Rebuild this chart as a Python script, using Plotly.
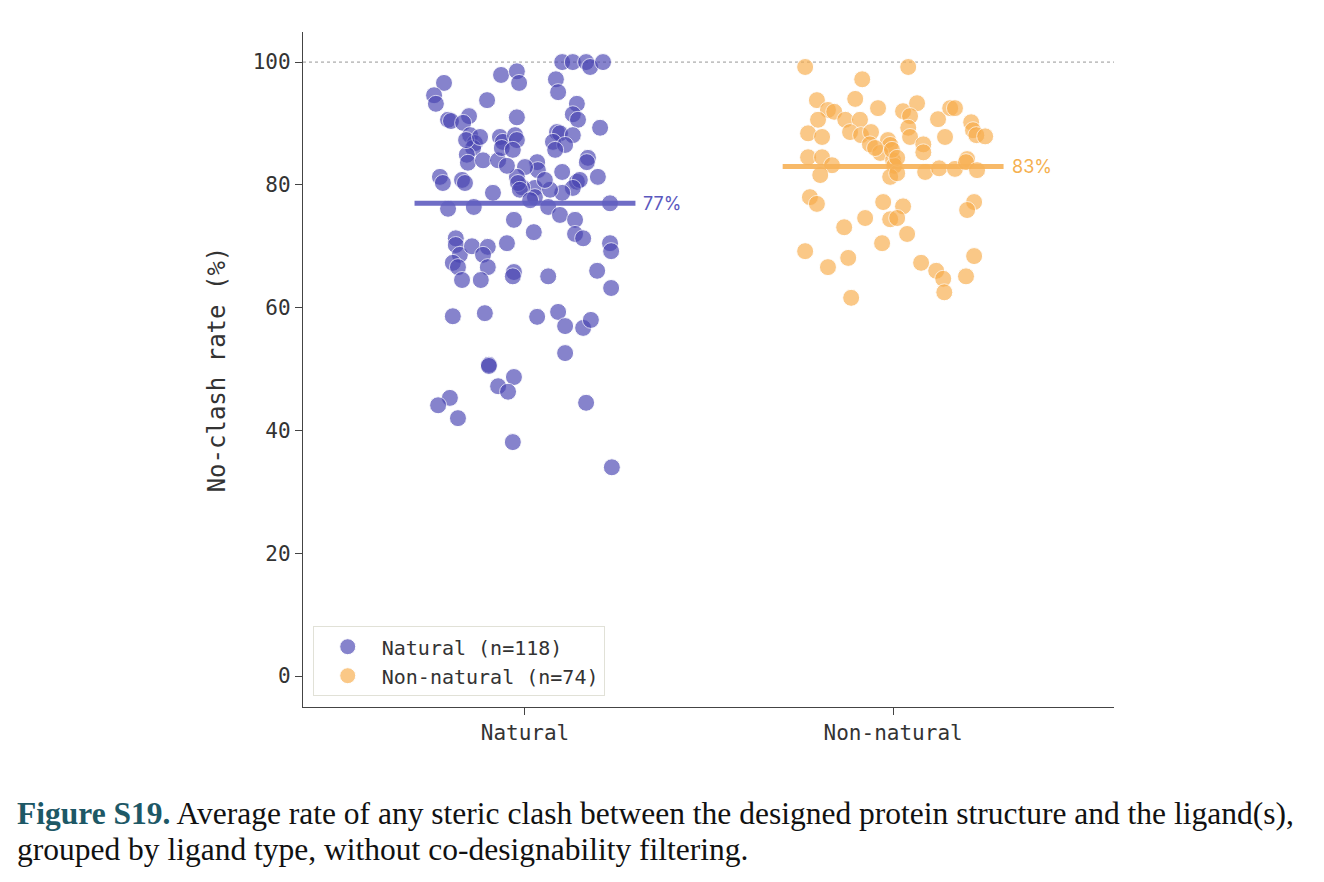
import plotly.graph_objects as go

categories = ["Natural", "Non-natural"]
legend_labels = ["Natural (n=118)", "Non-natural (n=74)"]
mean_values = [77, 83]

natural_jitter = [
    -0.220, -0.247, -0.242, -0.209, -0.201, -0.152, -0.168, -0.103, -0.065, -0.022,
    -0.016, -0.022, 0.101, 0.130, 0.166, 0.177, 0.212, 0.084, 0.090, 0.141,
    0.130, 0.144, 0.204, -0.149, -0.136, -0.141, -0.158, -0.155, -0.114, -0.073,
    -0.068, -0.060, -0.027, -0.022, -0.063, -0.033, 0.087, 0.095, 0.130, 0.076,
    0.109, 0.033, 0.035, 0.000, 0.171, 0.168, 0.101, 0.198, 0.141, 0.149,
    0.130, 0.101, 0.027, 0.027, 0.068, 0.063, 0.095, 0.136, 0.231, -0.008,
    -0.231, -0.223, -0.171, -0.163, -0.087, -0.022, -0.019, -0.014, -0.209, -0.139,
    -0.030, 0.024, 0.136, 0.158, 0.231, 0.234, -0.188, -0.188, -0.177, -0.196,
    -0.182, -0.144, -0.101, -0.114, -0.101, -0.171, -0.120, -0.049, -0.030, -0.033,
    0.063, 0.196, 0.234, -0.196, -0.109, 0.033, 0.090, 0.109, 0.158, 0.179,
    0.109, -0.098, -0.098, -0.030, -0.073, -0.046, -0.204, -0.236, -0.182, 0.166,
    -0.033, 0.236, -0.049, 0.054, -0.160, 0.014, -0.122, 0.082,
]
natural_values = [
    96.6, 94.6, 93.2, 90.6, 90.4, 91.2, 90.1, 93.8, 97.9, 98.5,
    96.6, 91.0, 100.0, 100.0, 100.0, 99.2, 100.0, 97.2, 95.1, 93.2,
    91.5, 90.6, 89.3, 88.1, 86.8, 86.0, 84.9, 83.6, 84.0, 84.0,
    87.8, 87.0, 88.1, 87.3, 86.0, 85.7, 88.6, 88.4, 88.1, 87.0,
    86.5, 83.7, 82.4, 82.9, 84.4, 83.7, 82.1, 81.3, 80.5, 80.8,
    79.5, 78.7, 79.5, 78.0, 79.2, 76.4, 75.1, 74.3, 77.0, 79.6,
    81.3, 80.3, 80.8, 80.3, 78.7, 81.3, 80.3, 79.2, 76.1, 76.4,
    74.3, 72.3, 72.0, 71.3, 70.5, 69.2, 71.3, 70.2, 68.6, 67.3,
    66.6, 70.0, 69.9, 68.6, 66.6, 64.5, 64.5, 70.5, 65.8, 65.1,
    65.1, 66.0, 63.2, 58.6, 59.1, 58.5, 59.3, 57.0, 56.7, 58.0,
    52.6, 50.7, 50.5, 48.7, 47.2, 46.3, 45.3, 44.1, 42.0, 44.5,
    38.1, 34.0, 83.1, 80.8, 87.3, 77.5, 87.8, 85.7,
]

nonnatural_jitter = [
    -0.239, 0.041, -0.084, -0.207, -0.103, -0.177, -0.160, -0.041, 0.027, 0.065,
    0.046, -0.204, -0.130, -0.090, -0.117, -0.087, -0.060, -0.063, -0.231, -0.193,
    0.041, 0.046, -0.014, -0.008, -0.035, 0.000, 0.003, -0.008, 0.011, 0.082,
    0.082, 0.087, 0.122, 0.155, 0.168, 0.141, 0.212, 0.217, 0.226, 0.250,
    -0.231, -0.193, -0.166, -0.198, 0.125, 0.168, 0.201, 0.198, 0.228, -0.226,
    -0.207, -0.027, 0.027, -0.008, 0.011, -0.076, -0.133, 0.038, -0.030, 0.220,
    0.201, -0.239, -0.177, -0.122, -0.114, 0.076, 0.117, 0.136, 0.139, 0.220,
    0.198, -0.003, 0.011, -0.049,
]
nonnatural_values = [
    99.2, 99.2, 97.2, 93.8, 94.0, 92.2, 91.9, 92.5, 92.0, 93.3,
    91.2, 90.6, 90.6, 90.6, 88.6, 88.1, 88.6, 86.6, 88.4, 87.8,
    89.3, 87.8, 87.3, 86.5, 85.2, 84.0, 83.1, 81.3, 81.9, 86.6,
    85.3, 82.1, 90.7, 92.5, 92.5, 87.8, 90.2, 88.9, 88.1, 87.9,
    84.5, 84.5, 83.2, 81.6, 82.7, 82.6, 84.2, 83.7, 82.4, 78.0,
    76.9, 77.2, 76.5, 74.4, 74.6, 74.6, 73.1, 72.0, 70.5, 77.2,
    75.9, 69.2, 66.6, 68.1, 61.6, 67.3, 66.0, 64.7, 62.5, 68.4,
    65.1, 85.7, 84.4, 86.0,
]

y_ticks = [0, 20, 40, 60, 80, 100]

caption_lines = [
    "<b><span style='color:#1d5866'>Figure S19.</span></b> Average rate of any steric clash "
    "between the designed protein structure and the ligand(s),",
    "grouped by ligand type, without co-designability filtering.",
]

dot_colors = ["rgb(72,68,178)", "rgb(248,172,74)"]
line_colors = ["rgb(96,94,192)", "rgb(247,178,88)"]
label_colors = ["rgb(90,88,190)", "rgb(245,176,80)"]

mono = "DejaVu Sans Mono"

fig = go.Figure()

groups = [(natural_jitter, natural_values), (nonnatural_jitter, nonnatural_values)]
for i, (jit, vals) in enumerate(groups):
    fig.add_trace(go.Scatter(
        x=[i + j for j in jit], y=vals, mode="markers",
        name=legend_labels[i],
        marker=dict(size=17, color=dot_colors[i], opacity=0.66,
                    line=dict(color="white", width=1)),
        hoverinfo="y",
    ))

for i, m in enumerate(mean_values):
    fig.add_trace(go.Scatter(
        x=[i - 0.3, i + 0.3], y=[m, m], mode="lines",
        line=dict(color=line_colors[i], width=5), opacity=0.9,
        showlegend=False, hoverinfo="skip",
    ))
    fig.add_annotation(
        x=i + 0.3, y=m, xref="x", yref="y", text=f"{m}%",
        showarrow=False, xanchor="left", yanchor="middle", xshift=6,
        font=dict(family="Inter", size=18, color=label_colors[i]),
    )

fig.add_shape(type="line", xref="paper", yref="y", x0=0, x1=1, y0=100, y1=100,
              line=dict(color="rgb(150,150,150)", width=1, dash="dot"), layer="below")

for k, (line, ypos) in enumerate(zip(caption_lines, [-0.1585, -0.2104])):
    fig.add_annotation(
        xref="paper", yref="paper", x=-0.3551, y=ypos, xanchor="left", yanchor="middle",
        align="left", showarrow=False, text=line,
        font=dict(family="Liberation Serif", size=31.5, color="#111111"),
    )

fig.update_layout(
    width=1324, height=882,
    margin=dict(l=303, r=210, t=32, b=175),
    plot_bgcolor="white", paper_bgcolor="white",
    showlegend=True,
    legend=dict(
        x=0.012, y=0.016, xanchor="left", yanchor="bottom",
        bgcolor="rgba(255,255,255,0.9)", bordercolor="rgb(225,225,215)", borderwidth=1,
        font=dict(family=mono, size=20, color="#333333"),
        itemsizing="trace", itemwidth=58,
    ),
    xaxis=dict(
        range=[-0.603, 1.6], tickmode="array", tickvals=[0, 1], ticktext=categories,
        showgrid=False, zeroline=False, showline=True, linecolor="#444444", linewidth=1.3,
        ticks="outside", ticklen=7, tickcolor="#444444",
        tickfont=dict(family=mono, size=21, color="#333333"),
    ),
    yaxis=dict(
        range=[-5.05, 104.9], tickmode="array", tickvals=y_ticks,
        showgrid=False, zeroline=False, showline=True, linecolor="#444444", linewidth=1.3,
        ticks="outside", ticklen=7, tickcolor="#444444",
        tickfont=dict(family=mono, size=21, color="#333333"),
        title=dict(text="No-clash rate (%)", font=dict(family=mono, size=24, color="#333333"),
                   standoff=20),
    ),
)

fig.write_html("out.html")
